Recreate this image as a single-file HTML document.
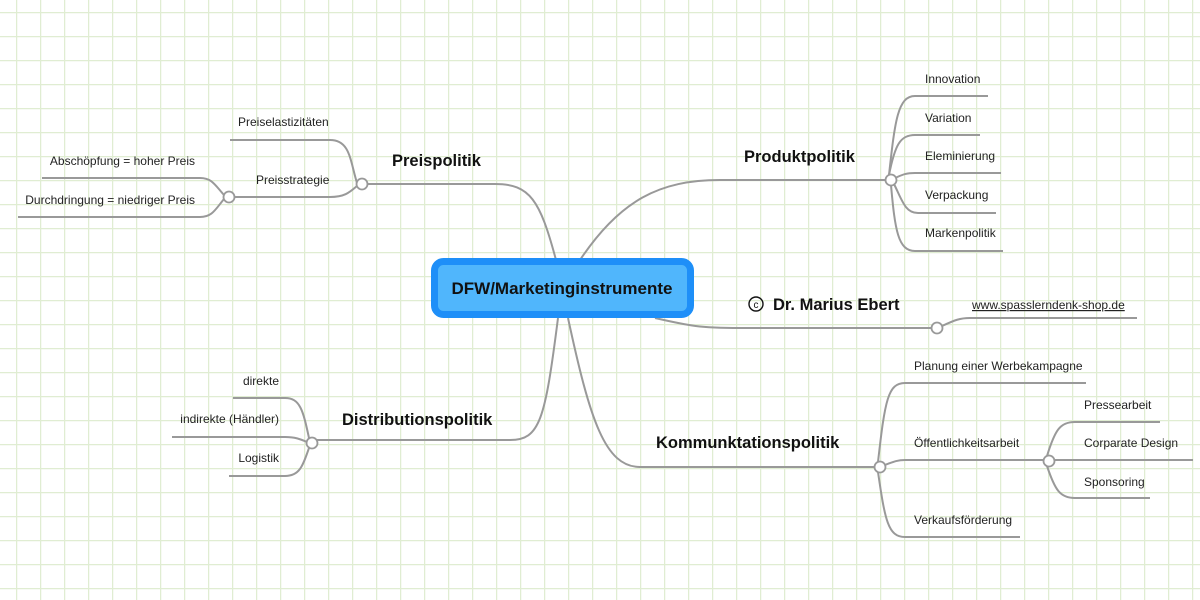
<!DOCTYPE html>
<html><head><meta charset="utf-8"><style>
html,body{margin:0;padding:0;}
body{width:1200px;height:600px;overflow:hidden;background:#fff;}
svg{display:block;}
text{font-family:"Liberation Sans",sans-serif;fill:#222;}
.s{font-size:12px;}
.b{font-size:16.5px;font-weight:bold;fill:#111;}
</style></head><body>
<svg width="1200" height="600" viewBox="0 0 1200 600" xmlns="http://www.w3.org/2000/svg">
<defs>
<pattern id="g" width="24" height="24" patternUnits="userSpaceOnUse" x="16" y="12">
<path d="M0 0.5H24M0.5 0V24" stroke="#e0edd2" stroke-width="1.5" fill="none"/>
</pattern>
</defs>
<rect width="1200" height="600" fill="url(#g)"/>
<g fill="none" stroke="#999" stroke-width="2">
<path d="M556 260 C540 200 530 184 495 184 H367"/>
<path d="M357 183 C350 160 350 140 330 140 H230"/>
<path d="M357 186 C350 192 345 197 330 197 H234"/>
<path d="M224 195 C215 185 212 178 200 178 H42"/>
<path d="M224 199 C215 210 212 217 200 217 H18"/>
<path d="M580 260 C620 200 660 180 720 180 H886"/>
<path d="M889 175 C895 120 898 96 915 96 H988"/>
<path d="M889 175 C895 145 900 135 915 135 H980"/>
<path d="M895 178 C902 175 905 173 915 173 H1001"/>
<path d="M894 184 C902 200 905 213 918 213 H996"/>
<path d="M891 185 C895 230 898 251 915 251 H1003"/>
<path d="M655 318 C690 326 700 328 740 328 H932"/>
<path d="M942 326 C955 320 960 318 970 318 H1137"/>
<path d="M568 318 C590 420 605 467 640 467 H875"/>
<path d="M878 462 C885 400 888 383 905 383 H1086"/>
<path d="M885 465 C893 462 897 460 905 460 H1044"/>
<path d="M878 472 C885 520 888 537 905 537 H1020"/>
<path d="M1047 456 C1055 430 1060 422 1075 422 H1160"/>
<path d="M1054 460 H1193"/>
<path d="M1047 466 C1055 490 1060 498 1075 498 H1150"/>
<path d="M558 318 C545 420 540 440 510 440 H317"/>
<path d="M309 438 C303 410 300 398 285 398 H233"/>
<path d="M307 442 C300 439 295 437 285 437 H172"/>
<path d="M309 448 C303 465 300 476 285 476 H229"/>
</g>
<g fill="#fff" stroke="#999" stroke-width="1.8">
<circle cx="362" cy="184" r="5.5"/>
<circle cx="229" cy="197" r="5.5"/>
<circle cx="891" cy="180" r="5.5"/>
<circle cx="937" cy="328" r="5.5"/>
<circle cx="880" cy="467" r="5.5"/>
<circle cx="1049" cy="461" r="5.5"/>
<circle cx="312" cy="443" r="5.5"/>
</g>
<rect x="434.5" y="261.5" width="256" height="53" rx="9" fill="#50b6fc" stroke="#1e8ff8" stroke-width="7"/>
<text x="562" y="294" text-anchor="middle" style="font-size:17px;font-weight:bold;fill:#111;">DFW/Marketinginstrumente</text>
<text class="b" x="392" y="166">Preispolitik</text>
<text class="b" x="744" y="162">Produktpolitik</text>
<text class="b" x="773" y="310">Dr. Marius Ebert</text>
<circle cx="756" cy="304" r="7" fill="none" stroke="#111" stroke-width="1.4"/>
<text x="756" y="308" text-anchor="middle" style="font-size:10px;fill:#111;">c</text>
<text class="b" x="656" y="448">Kommunktationspolitik</text>
<text class="b" x="342" y="425">Distributionspolitik</text>
<text class="s" x="238" y="126">Preiselastizitäten</text>
<text class="s" x="256" y="184">Preisstrategie</text>
<text class="s" x="195" y="165" text-anchor="end">Abschöpfung = hoher Preis</text>
<text class="s" x="195" y="204" text-anchor="end">Durchdringung = niedriger Preis</text>
<text class="s" x="925" y="83">Innovation</text>
<text class="s" x="925" y="122">Variation</text>
<text class="s" x="925" y="160">Eleminierung</text>
<text class="s" x="925" y="199">Verpackung</text>
<text class="s" x="925" y="237">Markenpolitik</text>
<text class="s" x="972" y="309" text-decoration="underline">www.spasslerndenk-shop.de</text>
<text class="s" x="914" y="370">Planung einer Werbekampagne</text>
<text class="s" x="914" y="447">Öffentlichkeitsarbeit</text>
<text class="s" x="914" y="524">Verkaufsförderung</text>
<text class="s" x="1084" y="409">Pressearbeit</text>
<text class="s" x="1084" y="447">Corparate Design</text>
<text class="s" x="1084" y="486">Sponsoring</text>
<text class="s" x="279" y="385" text-anchor="end">direkte</text>
<text class="s" x="279" y="423" text-anchor="end">indirekte (Händler)</text>
<text class="s" x="279" y="462" text-anchor="end">Logistik</text>
</svg>
</body></html>
